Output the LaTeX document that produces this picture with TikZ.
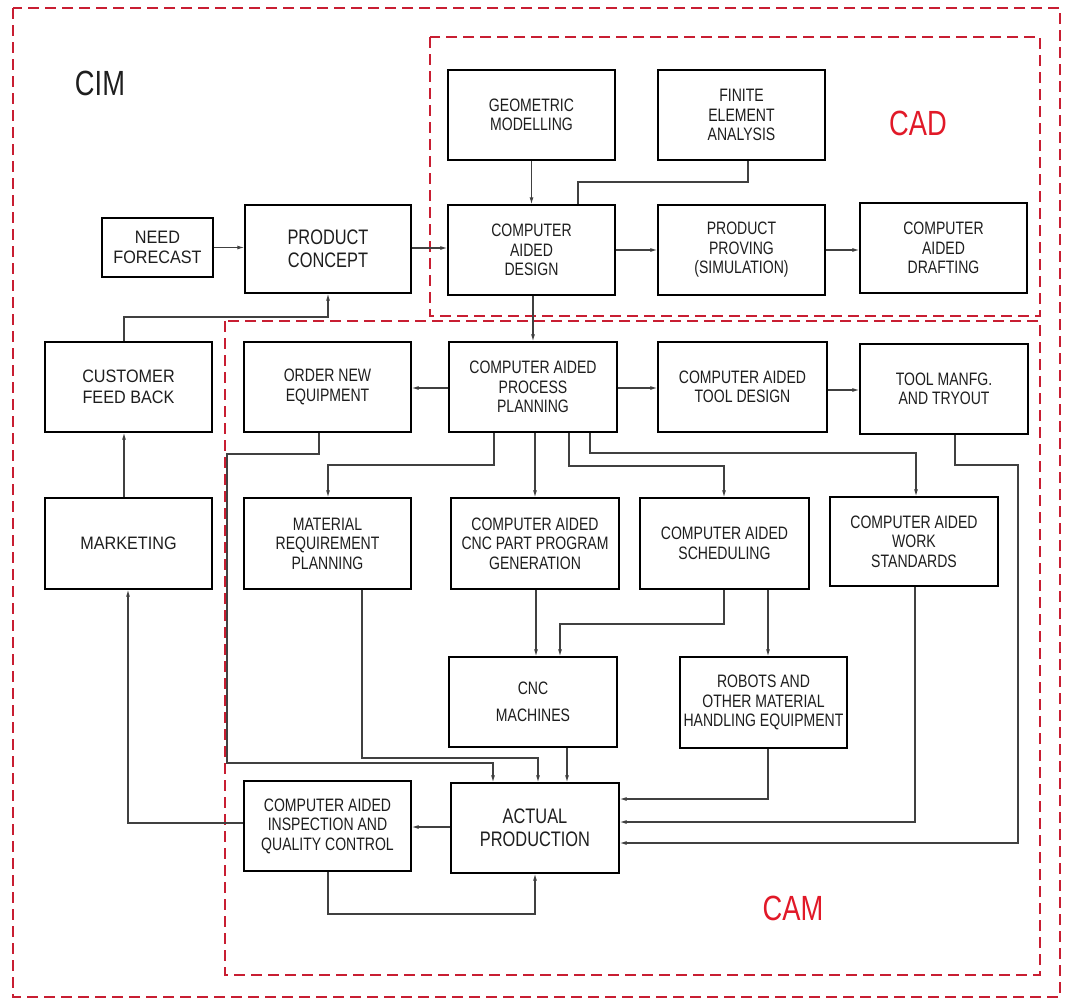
\documentclass[tikz,border=0pt]{standalone}
\usepackage{fontspec}
\setmainfont{Liberation Sans}[FakeStretch=0.78]
\newfontfamily\widefont{Liberation Sans}[FakeStretch=0.9]
\usetikzlibrary{arrows.meta}
\definecolor{zonered}{RGB}{200,30,50}
\definecolor{labelred}{RGB}{225,25,40}
\definecolor{ink}{RGB}{30,30,30}

% \putbox[options]{name}{x1}{y1}{x2}{y2}{text}
\newcommand\putbox[7][]{%
  \node[box,#1,minimum width={(#5-#3)*1pt},minimum height={(#6-#4)*1pt}]
    (#2) at ({(#3+#5)/2},{(#4+#6)/2}) {#7};}

\begin{document}
\begin{tikzpicture}[x=1pt,y=-1pt,
  box/.style={draw=black, line width=1.4pt, fill=white, align=center,
    inner sep=1pt, text=ink, font=\fontsize{18}{19.5}\selectfont},
  big/.style={font=\fontsize{21}{22.5}\selectfont},
  wide/.style={font=\widefont\fontsize{18}{20.5}\selectfont},
  conn/.style={draw=black!75, line width=1.1pt},
  arr/.style={conn, -{Latex[length=7pt,width=4pt]}},
  zone/.style={draw=zonered, line width=1.3pt, dash pattern=on 11pt off 6pt},
  zonelabel/.style={font=\fontsize{35}{35}\selectfont, inner sep=0pt}]

\useasboundingbox (0,0) rectangle (1065,1004);

% dashed zones
\draw[zone] (13,8) rectangle (1060,997);
\draw[zone] (430,37) rectangle (1040,316);
\draw[zone] (225,321) rectangle (1040,975);

\node[zonelabel, text=ink] (cimlabel) at (100,83) {CIM};
\node[zonelabel, text=labelred] (cadlabel) at (918,123) {CAD};
\node[zonelabel, text=labelred] (camlabel) at (793,908) {CAM};

% boxes
\putbox[wide]{nf}{102}{218}{213}{277}{NEED\\FORECAST}
\putbox[big]{pc}{245}{205}{411}{293}{PRODUCT\\CONCEPT}
\putbox{gm}{448}{70}{615}{160}{GEOMETRIC\\MODELLING}
\putbox{fea}{658}{70}{825}{160}{FINITE\\ELEMENT\\ANALYSIS}
\putbox{cad}{448}{205}{615}{295}{COMPUTER\\AIDED\\DESIGN}
\putbox{pp}{658}{205}{825}{295}{PRODUCT\\PROVING\\(SIMULATION)}
\putbox{cadr}{860}{203}{1027}{293}{COMPUTER\\AIDED\\DRAFTING}
\putbox[wide]{cf}{45}{342}{212}{432}{CUSTOMER\\FEED BACK}
\putbox[wide]{mk}{45}{498}{212}{589}{MARKETING}
\putbox{one}{244}{342}{411}{432}{ORDER NEW\\EQUIPMENT}
\putbox{capp}{449}{342}{617}{432}{COMPUTER AIDED\\PROCESS\\PLANNING}
\putbox{ctd}{658}{342}{827}{432}{COMPUTER AIDED\\TOOL DESIGN}
\putbox{tm}{860}{344}{1028}{434}{TOOL MANFG.\\AND TRYOUT}
\putbox{mrp}{244}{498}{411}{589}{MATERIAL\\REQUIREMENT\\PLANNING}
\putbox{cnp}{451}{498}{619}{589}{COMPUTER AIDED\\CNC PART PROGRAM\\GENERATION}
\putbox{sch}{640}{498}{809}{589}{COMPUTER AIDED\\SCHEDULING}
\putbox{ws}{830}{497}{998}{586}{COMPUTER AIDED\\WORK\\STANDARDS}
\putbox{cnc}{449}{657}{617}{747}{CNC\\[7pt]MACHINES}
\putbox{rob}{680}{657}{847}{748}{ROBOTS AND\\OTHER MATERIAL\\HANDLING EQUIPMENT}
\putbox{insp}{244}{781}{411}{871}{COMPUTER AIDED\\INSPECTION AND\\QUALITY CONTROL}
\putbox[big]{ap}{451}{783}{619}{873}{ACTUAL\\PRODUCTION}

% design stage
\draw[arr] (nf.east) -- (nf.east -| pc.west);
\draw[arr] (pc.east |- 0,248) -- (cad.west |- 0,248);
\draw[arr] (gm.south) -- (cad.north);
\draw[conn] (fea.south -| 748,0) |- (578,182) -- (cad.north -| 578,0);
\draw[arr] (cad.east) -- (pp.west);
\draw[arr] (pp.east) -- (pp.east -| cadr.west);

% process planning
\draw[arr] (cad.south -| 533,0) -- (capp.north -| 533,0);
\draw[arr] (capp.west |- 0,388) -- (one.east |- 0,388);
\draw[arr] (capp.east |- 0,388) -- (ctd.west |- 0,388);
\draw[arr] (ctd.east |- 0,390) -- (tm.west |- 0,390);
\draw[arr] (capp.south -| 494,0) |- (328,465) -- (mrp.north -| 328,0);
\draw[arr] (capp.south -| 535,0) -- (cnp.north -| 535,0);
\draw[arr] (capp.south -| 569,0) |- (724,466) -- (sch.north -| 724,0);
\draw[arr] (capp.south -| 590,0) |- (916,453) -- (ws.north -| 916,0);

% towards manufacturing
\draw[arr] (cnp.south -| 536,0) -- (cnc.north -| 536,0);
\draw[arr] (sch.south -| 724,0) |- (560,624) -- (cnc.north -| 560,0);
\draw[arr] (sch.south -| 768,0) -- (rob.north -| 768,0);

% into actual production
\draw[arr] (one.south -| 319,0) |- (227,454) |- (493,763) -- (ap.north -| 493,0);
\draw[arr] (mrp.south -| 362,0) |- (538,758) -- (ap.north -| 538,0);
\draw[arr] (cnc.south -| 567,0) -- (ap.north -| 567,0);
\draw[arr] (rob.south -| 768,0) |- (ap.east |- 0,799);
\draw[arr] (ws.south -| 915,0) |- (ap.east |- 0,822);
\draw[arr] (tm.south -| 955,0) |- (1018,465) |- (ap.east |- 0,843);

% quality loop and market feedback
\draw[arr] (ap.west |- 0,827) -- (insp.east |- 0,827);
\draw[arr] (insp.south -| 328,0) |- (535,914) -- (ap.south -| 535,0);
\draw[arr] (insp.west |- 0,823) -| (mk.south -| 128,0);
\draw[arr] (mk.north -| 124,0) -- (cf.south -| 124,0);
\draw[arr] (cf.north -| 124,0) |- (328,317) -- (pc.south -| 328,0);

\end{tikzpicture}
\end{document}
